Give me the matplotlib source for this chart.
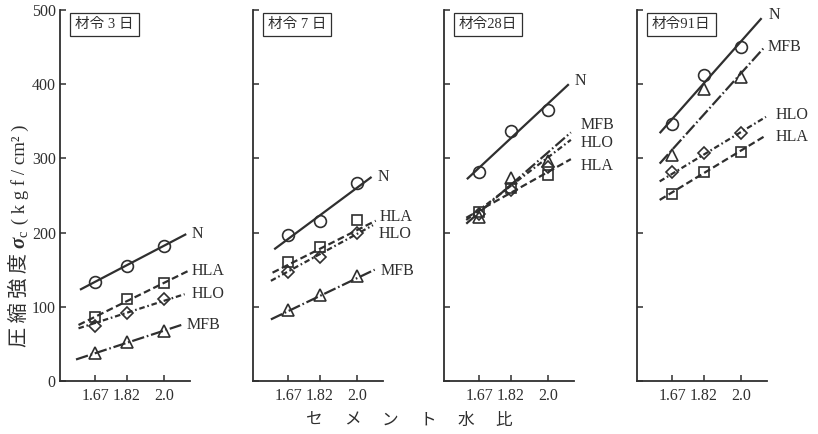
import matplotlib
matplotlib.use('Agg')
import matplotlib.pyplot as plt

plt.rcParams['mathtext.fontset'] = 'custom'
plt.rcParams['mathtext.rm'] = 'Liberation Serif'
plt.rcParams['mathtext.it'] = 'Liberation Serif:italic:bold'
plt.rcParams['mathtext.bf'] = 'Liberation Serif:bold'
plt.rcParams['lines.scale_dashes'] = False

# ---------------- data ----------------
cw_ratio = [1.67, 1.82, 2.0]                 # セメント水比
x_ticks = [1.67, 1.82, 2.0]
x_tick_labels = ['1.67', '1.82', '2.0']
y_ticks = [0, 100, 200, 300, 400, 500]
ages = ['材令 3 日', '材令 7 日', '材令28日', '材令91日']
series = ['N', 'HLA', 'HLO', 'MFB']

# measured compressive strength (kgf/cm2), one row per age
n_pts = [[134, 155, 182], [197, 215, 267], [281, 337, 365], [346, 412, 450]]
hla_pts = [[86, 110, 132], [161, 180, 217], [228, 260, 278], [252, 282, 309]]
hlo_pts = [[74, 91, 111], [147, 167, 199], [225, 257, 289], [281, 307, 334]]
mfb_pts = [[38, 52, 68], [96, 116, 141], [221, 273, 296], [305, 394, 410]]

# fitted lines: x range and strength at both ends, one row per age
n_line_x = [[1.596, 2.107], [1.602, 2.070], [1.610, 2.100], [1.609, 2.099]]
n_line_y = [[123, 198], [177.5, 275], [272, 400], [334, 489]]
hla_line_x = [[1.589, 2.114], [1.594, 2.090], [1.607, 2.110], [1.609, 2.120]]
hla_line_y = [[75.5, 148], [146, 216], [220, 299], [244, 331]]
hlo_line_x = [[1.589, 2.099], [1.586, 2.077], [1.607, 2.110], [1.609, 2.120]]
hlo_line_y = [[71, 117], [135, 210], [217, 325], [269, 356]]
mfb_line_x = [[1.577, 2.083], [1.586, 2.085], [1.607, 2.110], [1.609, 2.107]]
mfb_line_y = [[29, 75.5], [83, 150], [212, 335], [293, 448]]

y_label_parts = ['圧 縮 強 度 ', '$\\sigma_{\\rm c}$', ' ( k g f / cm² )']
x_label = 'セメント水比'

# ---------------- styling ----------------
INK = '#2f2f2f'
serif = ['Liberation Serif', 'Noto Sans CJK JP']
style = {
    'N':   dict(marker='o', ms=8.5, dashes=None),
    'HLA': dict(marker='s', ms=7.5, dashes=(5, 2.5)),
    'HLO': dict(marker='D', ms=6.5, dashes=(4, 2, 1.2, 2)),
    'MFB': dict(marker='^', ms=8.5, dashes=(9, 2, 1.2, 2)),
}
# label offsets (points) relative to line end, per age
label_off = [
    {'N': (4, 0), 'HLA': (3, 0), 'HLO': (5, 0), 'MFB': (4, 0)},
    {'N': (4, 0), 'HLA': (3, 3), 'HLO': (4, -6), 'MFB': (4, -1)},
    {'N': (4, 2), 'HLA': (7, -5), 'HLO': (7, -2), 'MFB': (7, 5)},
    {'N': (5, 2), 'HLA': (7, -1), 'HLO': (7, 1), 'MFB': (3, 1)},
]

pts = {'N': n_pts, 'HLA': hla_pts, 'HLO': hlo_pts, 'MFB': mfb_pts}
lx = {'N': n_line_x, 'HLA': hla_line_x, 'HLO': hlo_line_x, 'MFB': mfb_line_x}
ly = {'N': n_line_y, 'HLA': hla_line_y, 'HLO': hlo_line_y, 'MFB': mfb_line_y}

W, H = 818, 434
fig = plt.figure(figsize=(W / 100, H / 100), dpi=100)
lefts_px = [60, 253, 444, 637]
ax_w, ax_b, ax_h = 130, 53, 371

for i, L in enumerate(lefts_px):
    ax = fig.add_axes([L / W, ax_b / H, ax_w / W, ax_h / H])
    ax.set_xlim(1.5, 2.125)
    ax.set_ylim(0, 500)
    for s in ('top', 'right'):
        ax.spines[s].set_visible(False)
    for s in ('left', 'bottom'):
        ax.spines[s].set_linewidth(1.3)
        ax.spines[s].set_color(INK)
    ax.set_xticks(x_ticks)
    ax.set_xticklabels(x_tick_labels)
    ax.set_yticks(y_ticks)
    if i == 0:
        ax.set_yticklabels([str(v) for v in y_ticks])
    else:
        ax.set_yticklabels([])
    ax.tick_params(direction='in', length=4, width=1.1, color=INK,
                   labelcolor=INK, labelsize=11.5)
    ax.tick_params(axis='x', pad=5)
    ax.tick_params(axis='y', pad=3)
    for lab in ax.get_xticklabels() + ax.get_yticklabels():
        lab.set_family(serif)

    for name in series:
        st = style[name]
        ln, = ax.plot(lx[name][i], ly[name][i], color=INK, lw=1.6,
                      solid_capstyle='butt')
        if st['dashes'] is not None:
            ln.set_dashes(st['dashes'])
        ax.plot(cw_ratio, pts[name][i], linestyle='none', marker=st['marker'],
                ms=st['ms'], mfc='none', mec=INK, mew=1.2)
        dx, dy = label_off[i][name]
        ax.annotate(name, (lx[name][i][1], ly[name][i][1]),
                    xytext=(dx, dy), textcoords='offset points',
                    ha='left', va='center', fontsize=11.5, color=INK,
                    family=serif, annotation_clip=False)

    ax.text(15 / ax_w, 1 - 8 / ax_h, ages[i], transform=ax.transAxes,
            ha='left', va='top', fontsize=10.5, color=INK, family=serif,
            bbox=dict(boxstyle='square,pad=0.35', fc='white', ec=INK, lw=0.9))

# y label, built from pieces stacked bottom-to-top along a common baseline
renderer = fig.canvas.get_renderer()
part_fonts = [(['Noto Sans CJK JP'], 14.5), (serif, 15), (serif, 13.5)]
texts = []
for part, (fam, fs) in zip(y_label_parts, part_fonts):
    t = fig.text(0, 0, part, rotation=90, rotation_mode='anchor', ha='left',
                 va='baseline', fontsize=fs, color=INK, family=fam)
    texts.append(t)
lengths = [t.get_window_extent(renderer).height for t in texts]
base_x, center_y = 25, H - 236
y = center_y - sum(lengths) / 2
for t, ln in zip(texts, lengths):
    t.set_position((base_x / W, y / H))
    y += ln

# x label: spaced characters
cx, sp = 409, 38
for k, ch in enumerate(x_label):
    x = cx + (k - (len(x_label) - 1) / 2) * sp
    fig.text(x / W, 1 - 420 / H, ch, ha='center', va='center', fontsize=12,
             color=INK, family=['Noto Sans CJK JP'])

fig.savefig('out.png', dpi=100, facecolor='white')
